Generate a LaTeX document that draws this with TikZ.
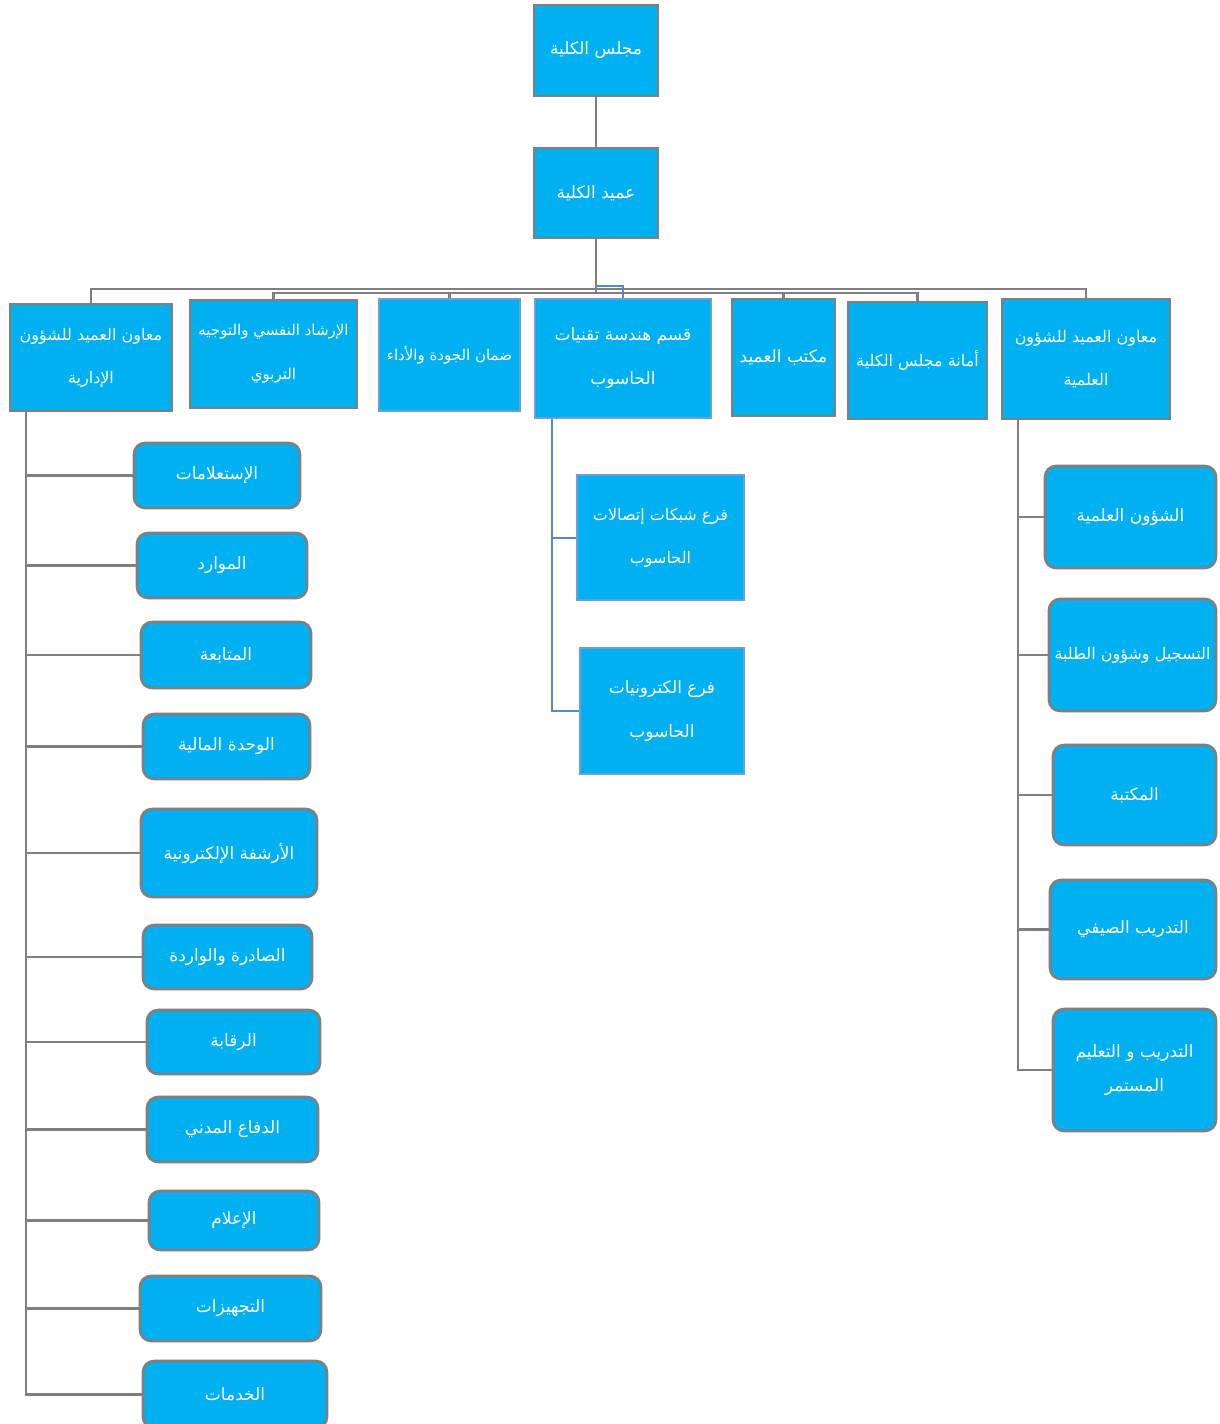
\documentclass[tikz,border=0pt]{standalone}
\usepackage{fontspec}
\newfontfamily\arabicfont[Script=Arabic]{DejaVu Sans}
\TeXXeTstate=1
\newcommand\arl[1]{\beginR #1\endR}
\definecolor{boxfill}{HTML}{00B0F0}
\definecolor{grayedge}{HTML}{7F7F7F}
\definecolor{blueedge}{HTML}{6A9FD8}
\definecolor{blueline}{HTML}{5A8AC6}
\tikzset{
  unit/.style={draw=grayedge, line width=2.6pt, fill=boxfill, text=white, inner sep=2pt,
    align=center, font=\arabicfont\fontsize{17}{20}\selectfont},
  mid/.style={font=\arabicfont\fontsize{16}{19}\selectfont},
  small/.style={font=\arabicfont\fontsize{15}{18}\selectfont},
  bunit/.style={unit, draw=blueedge, line width=2pt},
  runit/.style={unit, rounded corners=11pt},
  link/.style={draw=grayedge, line width=2.2pt},
  blink/.style={draw=blueline, line width=2pt},
}
\begin{document}
\begin{tikzpicture}[x=1pt,y=-1pt]
\useasboundingbox (0,0) rectangle (1219,1424);
% top
\node[unit, minimum width=124, minimum height=91] (council) at (596,50.5) {\arl{مجلس الكلية}};
\node[unit, minimum width=124, minimum height=90] (dean) at (596,193) {\arl{عميد الكلية}};
% second row
\node[unit, mid, minimum width=162, minimum height=107] (adminvp) at (91,357.5) {\arl{معاون العميد للشؤون}\\[24pt]\arl{الإدارية}};
\node[unit, small, minimum width=167, minimum height=108] (counsel) at (273.5,354) {\arl{الإرشاد النفسي والتوجيه}\\[26pt]\arl{التربوي}};
\node[bunit, small, minimum width=141, minimum height=112] (quality) at (449.5,355) {\arl{ضمان الجودة والأداء}};
\node[bunit, minimum width=176, minimum height=119] (csdept) at (623,358.5) {\arl{قسم هندسة تقنيات}\\[24pt]\arl{الحاسوب}};
\node[unit, minimum width=103, minimum height=117] (deanoff) at (783.5,357.5) {\arl{مكتب العميد}};
\node[unit, mid, minimum width=139, minimum height=117] (secr) at (917.5,360.5) {\arl{أمانة مجلس الكلية}};
\node[unit, mid, minimum width=168, minimum height=120] (scivp) at (1086,359) {\arl{معاون العميد للشؤون}\\[24pt]\arl{العلمية}};
% left children
\node[runit, minimum width=166, minimum height=65] (a1) at (217,475.5) {\arl{الإستعلامات}};
\node[runit, minimum width=170, minimum height=65] (a2) at (222,565.5) {\arl{الموارد}};
\node[runit, minimum width=170, minimum height=66] (a3) at (226,655) {\arl{المتابعة}};
\node[runit, minimum width=167, minimum height=65] (a4) at (226.5,746.5) {\arl{الوحدة المالية}};
\node[runit, minimum width=176, minimum height=88] (a5) at (229,853) {\arl{الأرشفة الإلكترونية}};
\node[runit, minimum width=169, minimum height=64] (a6) at (227.5,957) {\arl{الصادرة والواردة}};
\node[runit, minimum width=173, minimum height=64] (a7) at (233.5,1042) {\arl{الرقابة}};
\node[runit, minimum width=171, minimum height=65] (a8) at (232.5,1129.5) {\arl{الدفاع المدني}};
\node[runit, minimum width=170, minimum height=59] (a9) at (234,1220.5) {\arl{الإعلام}};
\node[runit, minimum width=181, minimum height=65] (a10) at (230.5,1308.5) {\arl{التجهيزات}};
\node[runit, minimum width=184, minimum height=67] (a11) at (235,1394.5) {\arl{الخدمات}};
% middle children
\node[bunit, mid, minimum width=167, minimum height=125] (net) at (660.5,537.5) {\arl{فرع شبكات إتصالات}\\[24pt]\arl{الحاسوب}};
\node[bunit, minimum width=164, minimum height=126] (elec) at (662,711) {\arl{فرع الكترونيات}\\[24pt]\arl{الحاسوب}};
% right children
\node[runit, minimum width=171, minimum height=102] (r1) at (1130.5,517) {\arl{الشؤون العلمية}};
\node[runit, mid, minimum width=167, minimum height=112] (r2) at (1132.5,655) {\arl{التسجيل وشؤون الطلبة}};
\node[runit, minimum width=163, minimum height=100] (r3) at (1134.5,795) {\arl{المكتبة}};
\node[runit, minimum width=166, minimum height=99] (r4) at (1133,929.5) {\arl{التدريب الصيفي}};
\node[runit, minimum width=163, minimum height=122] (r5) at (1134.5,1070) {\arl{التدريب و التعليم}\\[14pt]\arl{المستمر}};
% connectors top
\coordinate (bus) at (596,289);
\coordinate (bus2) at (596,293);
\coordinate (bus3) at (596,286);
\draw[link] (council.south) -- (dean.north);
\draw[link] (dean.south) -- (bus2);
\draw[link] (bus) -| (adminvp.north);
\draw[link] (bus) -| (scivp.north);
\draw[link] (bus2) -| (counsel.north);
\draw[link] (bus2) -| (quality.north);
\draw[link] (bus2) -| (deanoff.north);
\draw[link] (bus2) -| (secr.north);
\draw[blink] (bus3) -| (csdept.north);
% left tree
\foreach \c in {a1,a2,a3,a4,a5,a6,a7,a8,a9,a10,a11}
  \draw[link] ([xshift=17pt]adminvp.south west) |- (\c.west);
% middle tree
\foreach \c in {net,elec}
  \draw[blink] ([xshift=18pt]csdept.south west) |- (\c.west);
% right tree
\foreach \c in {r1,r2,r3,r4,r5}
  \draw[link] ([xshift=17pt]scivp.south west) |- (\c.west);
\end{tikzpicture}
\end{document}
